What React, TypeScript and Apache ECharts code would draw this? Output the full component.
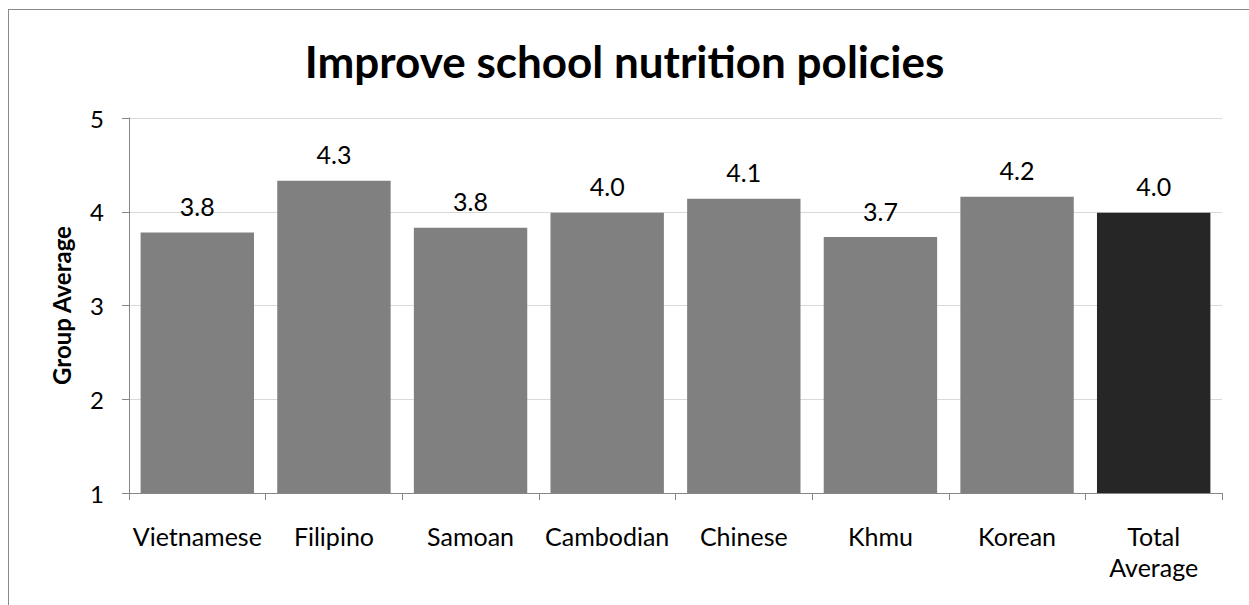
import React, { useEffect, useRef } from "react";
import * as echarts from "echarts";

const categories = ["Vietnamese", "Filipino", "Samoan", "Cambodian", "Chinese", "Khmu", "Korean", "Total\nAverage"];
const values = [3.78, 4.33, 3.83, 3.99, 4.14, 3.73, 4.16, 3.99];
const barColors = ["#808080", "#808080", "#808080", "#808080", "#808080", "#808080", "#808080", "#262626"];
const titleText = "Improve school nutrition policies";
const yAxisName = "Group Average";

const FONT = "Lato, 'Liberation Sans', sans-serif";

export default function App() {
  const ref = useRef<HTMLDivElement>(null);
  useEffect(() => {
    if (!ref.current) return;
    const chart = echarts.init(ref.current, null, { renderer: "svg" });
    chart.setOption({
      animation: false,
      backgroundColor: "transparent",
      textStyle: { fontFamily: FONT },
      title: {
        text: titleText,
        left: "center",
        top: 34,
        textStyle: { fontFamily: FONT, fontSize: 44, fontWeight: "bold", color: "#000" },
      },
      grid: { left: 129, top: 118, right: 27, bottom: 112, containLabel: false },
      xAxis: {
        type: "category",
        data: categories,
        axisLine: { lineStyle: { color: "#868686", width: 1 } },
        axisTick: { show: true, length: 7, lineStyle: { color: "#868686" } },
        axisLabel: { color: "#000", fontSize: 25, fontFamily: FONT, margin: 27, lineHeight: 31, interval: 0 },
      },
      yAxis: {
        type: "value",
        min: 1,
        max: 5,
        interval: 1,
        name: yAxisName,
        nameLocation: "middle",
        nameGap: 56,
        nameRotate: 90,
        nameTextStyle: { fontFamily: FONT, fontSize: 24, fontWeight: "bold", color: "#000" },
        axisLine: { show: true, lineStyle: { color: "#868686", width: 1 } },
        axisTick: { show: true, length: 7, lineStyle: { color: "#868686" } },
        axisLabel: { color: "#000", fontSize: 24, fontFamily: FONT, margin: 25 },
        splitLine: { show: true, lineStyle: { color: "#d9d9d9", width: 1 } },
      },
      series: [
        {
          type: "bar",
          data: values.map((v, i) => ({ value: v, itemStyle: { color: barColors[i] } })),
          barCategoryGap: "17%",
          label: {
            show: true,
            position: "top",
            distance: 14,
            color: "#000",
            fontSize: 25,
            fontFamily: FONT,
            formatter: (p: any) => Number(p.value).toFixed(1),
          },
        },
      ],
    });
    return () => chart.dispose();
  }, []);
  return (
    <div style={{ position: "absolute", left: 0, top: 0, width: 1249, height: 605, overflow: "hidden", background: "#fff" }}>
      <div
        style={{
          position: "absolute",
          left: 8,
          top: 9,
          width: 1260,
          height: 620,
          borderTop: "1px solid #8a8a8a",
          borderLeft: "1px solid #8a8a8a",
          boxSizing: "border-box",
        }}
      />
      <div ref={ref} style={{ position: "absolute", left: 0, top: 0, width: 1249, height: 605 }} />
    </div>
  );
}
